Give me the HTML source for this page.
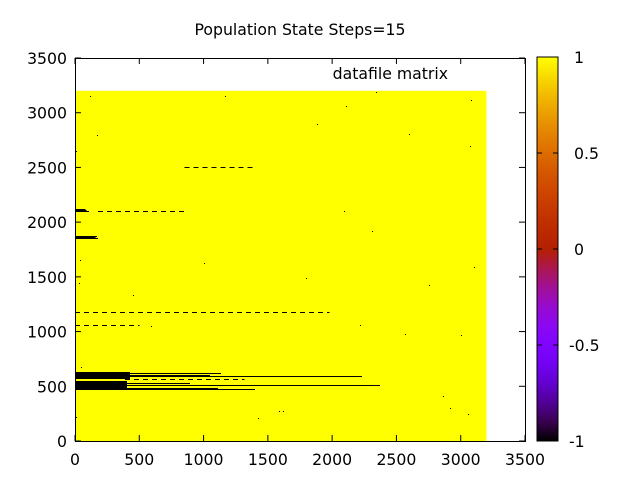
<!DOCTYPE html>
<html><head><meta charset="utf-8"><style>
body{margin:0;background:#fff;width:640px;height:480px;overflow:hidden}
svg{font-family:"DejaVu Sans","Liberation Sans",sans-serif}
text{font-size:15.7px;fill:#000}
</style></head><body>
<svg id="c" width="640" height="480">
<defs><linearGradient id="pal" x1="0" y1="1" x2="0" y2="0"></linearGradient></defs>
<text x="300" y="35" text-anchor="middle">Population State Steps=15</text>
</svg>
<script>
// data (data units)
const matrixSize = [3200, 3200];
const xTicks = [0,500,1000,1500,2000,2500,3000,3500];
const yTicks = [0,500,1000,1500,2000,2500,3000,3500];
const cbTicks = [-1,-0.5,0,0.5,1];
// solid black segments
const segY  = [621,603,585,521,503,484,475,1850,1860,1870,2100,2110,2120];
const segX0 = [0,0,0,0,0,0,0,0,0,0,0,0,0];
const segX1 = [1136,1050,2233,895,2373,1112,1400,180,160,170,110,90,80];
const segT  = [9,9,9,9,9,9,9,10,10,10,10,10,10];
// thick bands
const bandY0 = [567,484];
const bandY1 = [631,548];
const bandX1 = [428,404];
// dashed rows
const dashY  = [567,1180,2500,2100,1060];
const dashX0 = [390,0,850,180,0];
const dashX1 = [1320,1980,1400,850,500];
// scattered dots
const dotX = [10,50,120,170,450,590,1000,1170,1420,1590,1620,1800,2110,2220,2310,2340,2570,2600,2750,2860,2920,3000,3060,3080,3100,30,10,40,1880,2090,3070,10];
const dotY = [220,680,3150,2800,1330,1050,1630,3150,210,270,270,1490,3060,1060,1920,3190,980,2810,1430,410,300,970,250,3120,1590,1440,2650,1650,2900,2100,2700,1180];

const NS="http://www.w3.org/2000/svg", svg=document.getElementById('c');
const L=75,R=525,T=58,B=441;
const sx=v=>L+v*(R-L)/3500, sy=v=>B-v*(B-T)/3500;
function mk(t,a,p){const e=document.createElementNS(NS,t);for(const k in a)e.setAttribute(k,a[k]);(p||svg).appendChild(e);return e;}
const g=document.querySelector('linearGradient');
for(let i=0;i<=20;i++){const x=i/20;const r=Math.sqrt(x),gg=x*x*x,b=Math.max(0,Math.sin(2*Math.PI*x));
 mk('stop',{offset:x,'stop-color':`rgb(${Math.round(r*255)},${Math.round(gg*255)},${Math.round(b*255)})`},g);}
const bg=mk('rect',{x:sx(0),y:sy(matrixSize[1]),width:sx(matrixSize[0])-sx(0),height:sy(0)-sy(matrixSize[1]),fill:'#ffff00'});


const ph=(B-T)/3500;
segY.forEach((y,i)=>{const h=Math.max(1,Math.round(segT[i]*ph));const e=mk('rect',{x:sx(segX0[i]),y:Math.round(sy(y)-h/2),width:sx(segX1[i])-sx(segX0[i]),height:h,fill:'#000','shape-rendering':'crispEdges'});

});
bandY0.forEach((y,i)=>{const e=mk('rect',{x:sx(0),y:sy(bandY1[i]),width:sx(bandX1[i])-sx(0),height:sy(y)-sy(bandY1[i]),fill:'#000','shape-rendering':'crispEdges'});

});
dashY.forEach((y,i)=>{const yy=Math.round(sy(y))+0.5;const e=mk('line',{x1:sx(dashX0[i]),x2:sx(dashX1[i]),y1:yy,y2:yy,stroke:'#000','stroke-width':1,'stroke-dasharray':'5 4','shape-rendering':'crispEdges'});

});
dotX.forEach((x,i)=>{const e=mk('rect',{x:Math.round(sx(x)),y:Math.round(sy(dotY[i])),width:1,height:1,fill:'#000','shape-rendering':'crispEdges'});

});
const fr=mk('rect',{x:L+0.5,y:T+0.5,width:R-L,height:B-T,fill:'none',stroke:'#000','stroke-width':1});


xTicks.forEach(v=>{mk('line',{x1:sx(v),x2:sx(v),y1:B,y2:B-6,stroke:'#000'});mk('line',{x1:sx(v),x2:sx(v),y1:T,y2:T+6,stroke:'#000'});
const t=mk('text',{x:sx(v),y:B+24,'text-anchor':'middle'});t.textContent=v;

});
yTicks.forEach(v=>{mk('line',{x1:L,x2:L+6,y1:sy(v),y2:sy(v),stroke:'#000'});mk('line',{x1:R,x2:R-6,y1:sy(v),y2:sy(v),stroke:'#000'});
const t=mk('text',{x:L-8,y:sy(v)+6,'text-anchor':'end'});t.textContent=v;

});
const lg=mk('text',{x:448,y:79,'text-anchor':'end'});lg.textContent='datafile matrix';


const CT=57,CB=441,CL=537,CR=558;
const cb=mk('rect',{x:CL,y:CT,width:CR-CL,height:CB-CT,fill:'url(#pal)',stroke:'#000'});


cbTicks.forEach(v=>{const y=CB-(v+1)/2*(CB-CT);
mk('line',{x1:CL,x2:CL+5,y1:y,y2:y,stroke:'#000'});mk('line',{x1:CR,x2:CR-5,y1:y,y2:y,stroke:'#000'});
const t=mk('text',{x:v<0?569:574,y:y+6});t.textContent=v;

});
</script>
</body></html>
